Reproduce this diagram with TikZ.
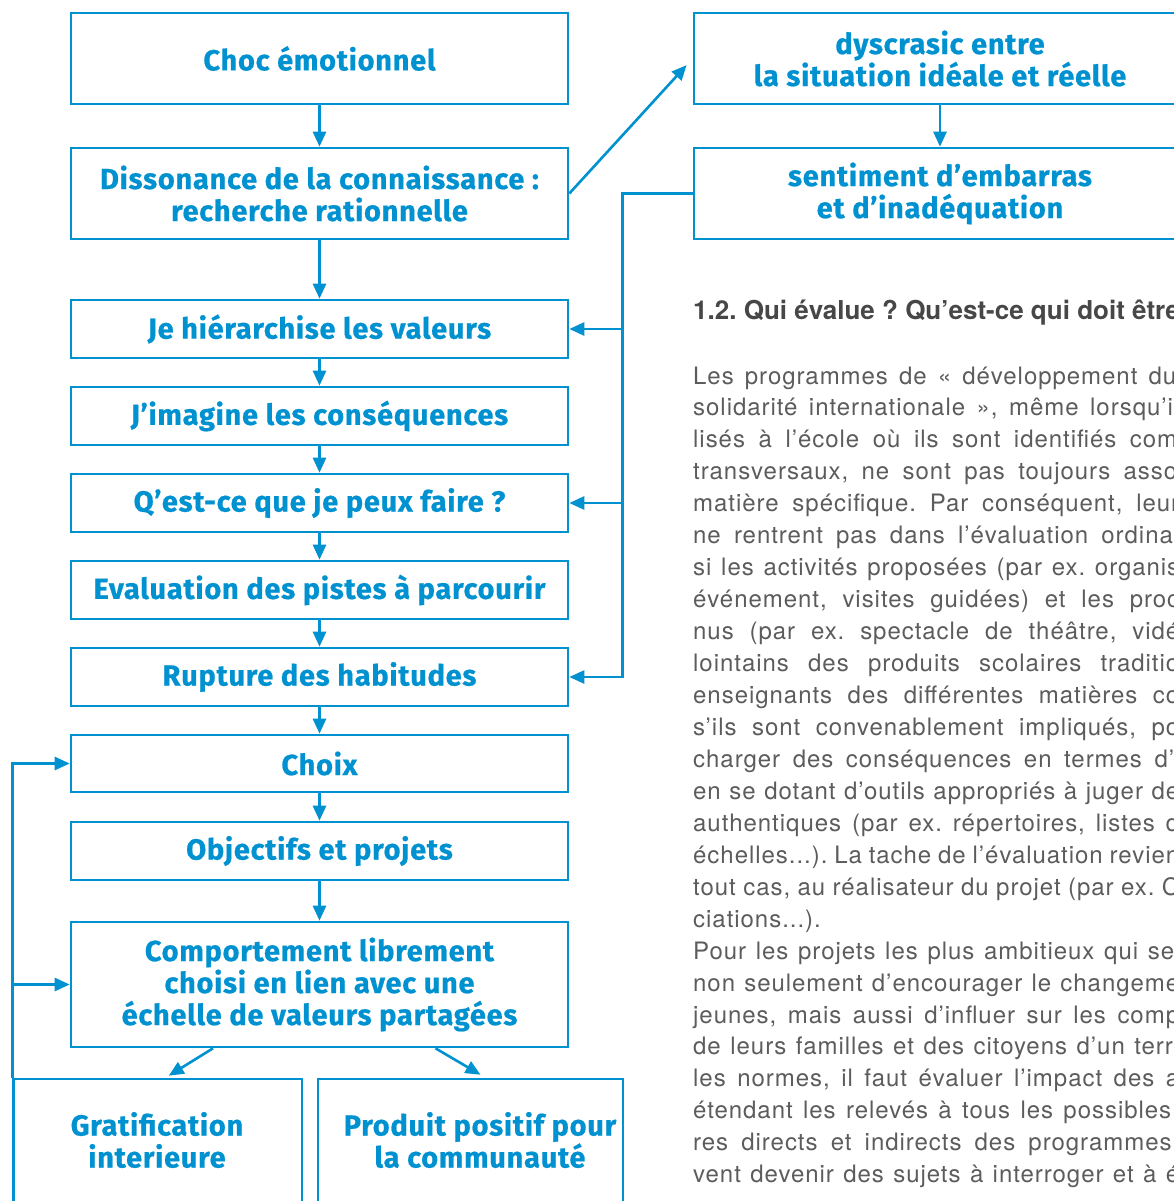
\documentclass[tikz,border=0pt]{standalone}
\usepackage{fontspec}
\setmainfont{TeX Gyre Heros}
\newfontfamily\boxfont{Fira Sans}[FakeStretch=1.0,LetterSpace=2.5,FakeBold=0.6]
\newfontfamily\bodyfont{TeX Gyre Heros}[LetterSpace=4]
\usetikzlibrary{arrows.meta,calc}
\definecolor{bblue}{RGB}{0,146,208}
\definecolor{tgray}{RGB}{92,92,92}
\newcommand\jln[2][486pt]{\makebox[#1][s]{#2}}
\begin{document}
\begin{tikzpicture}[x=1pt,y=-1pt,
  box/.style={draw=bblue, line width=2.6pt, minimum width=497pt, inner sep=0pt, align=center, text=bblue,
    font=\boxfont\bfseries\fontsize{29}{32}\selectfont},
  btxt/.style={inner sep=0pt, align=center, text=bblue, font=\boxfont\bfseries\fontsize{29}{32}\selectfont},
  arr/.style={draw=bblue, line width=2.6pt, -{Triangle[length=15pt,width=13pt]}},
  body/.style={anchor=base west, inner sep=0pt, text=tgray, font=\bodyfont\frenchspacing\fontsize{24}{32}\selectfont},
  head/.style={anchor=base west, inner sep=0pt, text=black!72, font=\bfseries\frenchspacing\fontsize{26}{30}\selectfont},
]
\useasboundingbox (0,0) rectangle (1174,1201);
\fill[white] (0,0) rectangle (1174,1201);
\clip (0,0) rectangle (1174,1201);

% left column
\node[box, minimum height=91pt] (choc) at (319.5,58.5) {Choc émotionnel};
\node[box, minimum height=91pt] (diss) at (319.5,193.5) {Dissonance de la connaissance :\\recherche rationnelle};
\node[box, minimum height=58pt] (hier) at (319.5,329) {Je hiérarchise les valeurs};
\node[box, minimum height=58pt] (imag) at (319.5,416) {J’imagine les conséquences};
\node[box, minimum height=58pt] (quoi) at (319.5,503) {Q’est-ce que je peux faire ?};
\node[box, minimum height=58pt] (eval) at (319.5,590) {Evaluation des pistes à parcourir};
\node[box, minimum height=58pt] (rupt) at (319.5,677) {Rupture des habitudes};
\node[box, minimum height=57pt] (choix) at (319.5,763.5) {Choix};
\node[box, minimum height=58pt] (obj) at (319.5,851) {Objectifs et projets};
\node[box, minimum height=125pt] (comp) at (319.5,984.5) {Comportement librement\\choisi en lien avec une\\échelle de valeurs partagées};

% bottom boxes
\node[box, minimum width=288.5pt, minimum height=126pt] (grat) at (157.75,1142) {};
\node[btxt] (grattxt) at (157,1140) {Gratification\\interieure};
\node[box, minimum width=305pt, minimum height=126pt] (prod) at (470.5,1142) {};
\node[btxt] (prodtxt) at (480,1140) {Produit positif pour\\la communauté};

% right boxes
\node[box, minimum width=492pt, minimum height=91pt] (dys) at (940,58.5) {dyscrasic entre\\la situation idéale et réelle};
\node[box, minimum width=492pt, minimum height=91pt] (sent) at (940,193.5) {sentiment d’embarras\\et d’inadéquation};

% vertical chain
\draw[arr] (choc) -- (diss);
\draw[arr] (diss) -- (hier);
\draw[arr] (hier) -- (imag);
\draw[arr] (imag) -- (quoi);
\draw[arr] (quoi) -- (eval);
\draw[arr] (eval) -- (rupt);
\draw[arr] (rupt) -- (choix);
\draw[arr] (choix) -- (obj);
\draw[arr] (obj) -- (comp);
\draw[arr] (dys) -- (sent);

% diagonal
\draw[arr, shorten >=9pt] (diss.east) -- (dys.west);

% right feedback
\path (sent.west) ++(-70.5,0) coordinate (rx);
\draw[arr] (sent.west) -- (rx) |- (rupt.east);
\draw[arr] (rx |- hier.east) -- (hier.east);
\draw[arr] (rx |- quoi.east) -- (quoi.east);

% left feedback
\draw[arr] (grat.north west) |- (choix.west);
\draw[arr] (grat.north west |- comp.west) -- (comp.west);

% split arrows
\draw[arr] ($(comp.south)+(-106.5,0)$) -- ($(grat.north)+(11,-2)$);
\draw[arr] ($(comp.south)+(116,0)$) -- ($(prod.north)+(10,-3)$);

% text column
\node[head] (h) at (693,319) {1.2. Qui évalue ? Qu’est-ce qui doit être};
\node[body] (t1) at (693,384.0) {\jln[483pt]{Les programmes de « développement du}};
\node[body] (t2) at (693,415.95) {\jln{solidarité internationale », même lorsqu’il}};
\node[body] (t3) at (693,447.9) {\jln[484pt]{lisés à l’école où ils sont identifiés com}};
\node[body] (t4) at (693,479.85) {\jln[484pt]{transversaux, ne sont pas toujours asso}};
\node[body] (t5) at (693,511.8) {\jln{matière spécifique. Par conséquent, leur}};
\node[body] (t6) at (693,543.75) {\jln{ne rentrent pas dans l’évaluation ordinai}};
\node[body] (t7) at (693,575.7) {\jln{si les activités proposées (par ex. organis}};
\node[body] (t8) at (693,607.65) {\jln{événement, visites guidées) et les proc}};
\node[body] (t9) at (693,639.6) {\jln{nus (par ex. spectacle de théâtre, vidé}};
\node[body] (t10) at (693,671.55) {\jln{lointains des produits scolaires traditio}};
\node[body] (t11) at (693,703.5) {\jln{enseignants des différentes matières co}};
\node[body] (t12) at (693,735.45) {\jln{s’ils sont convenablement impliqués, po}};
\node[body] (t13) at (693,767.4) {\jln[481pt]{charger des conséquences en termes d’}};
\node[body] (t14) at (693,799.35) {\jln{en se dotant d’outils appropriés à juger de}};
\node[body] (t15) at (693,831.3) {\jln{authentiques (par ex. répertoires, listes d}};
\node[body] (t16) at (693,863.25) {\jln{échelles...). La tache de l’évaluation revien}};
\node[body] (t17) at (693,895.2) {\jln{tout cas, au réalisateur du projet (par ex. C}};
\node[body] (t18) at (693,927.15) {ciations...).};
\node[body] (t19) at (693,959.1) {\jln[481pt]{Pour les projets les plus ambitieux qui se}};
\node[body] (t20) at (693,991.05) {\jln{non seulement d’encourager le changeme}};
\node[body] (t21) at (693,1023.0) {\jln{jeunes, mais aussi d’influer sur les comp}};
\node[body] (t22) at (693,1054.95) {\jln{de leurs familles et des citoyens d’un terri}};
\node[body] (t23) at (693,1086.9) {\jln{les normes, il faut évaluer l’impact des a}};
\node[body] (t24) at (693,1118.85) {\jln[478pt]{étendant les relevés à tous les possibles}};
\node[body] (t25) at (693,1150.8) {\jln{res directs et indirects des programmes.}};
\node[body] (t26) at (693,1182.75) {\jln{vent devenir des sujets à interroger et à é}};
\end{tikzpicture}
\end{document}
